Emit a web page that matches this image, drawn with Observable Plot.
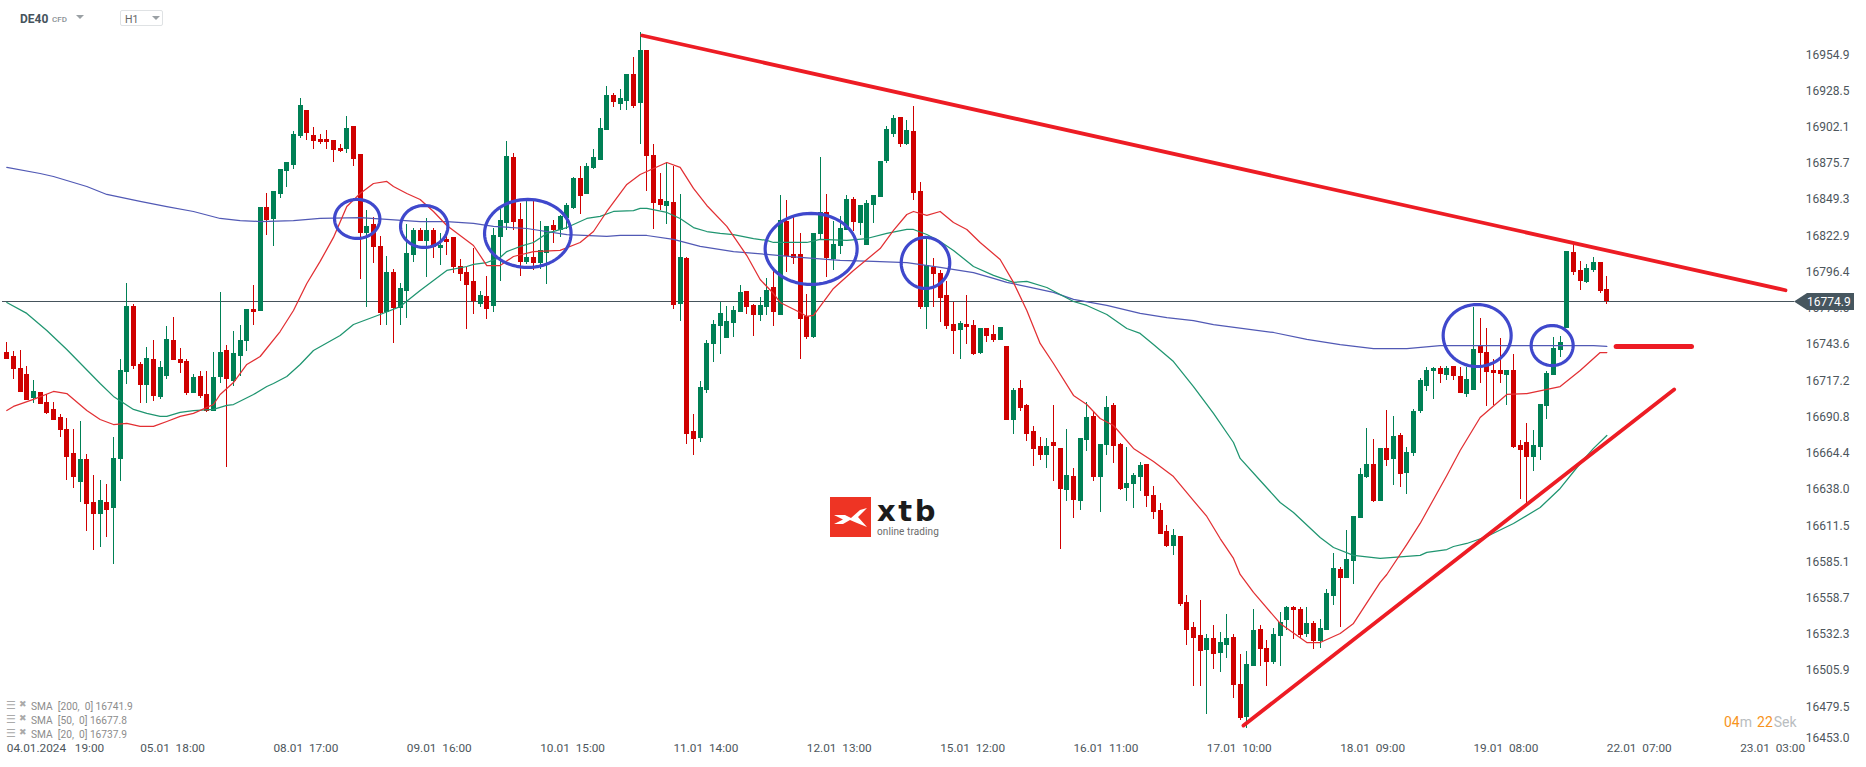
<!DOCTYPE html>
<html>
<head>
<meta charset="utf-8">
<script src="https://cdn.jsdelivr.net/npm/d3@7"></script>
<script src="https://cdn.jsdelivr.net/npm/@observablehq/plot@0.6"></script>
<style>
html,body{margin:0;padding:0;background:#fff;font-family:Roboto,sans-serif}
#wrap{position:relative;width:1866px;height:767px;overflow:hidden}
#wrap svg{display:block}
.abs{position:absolute;white-space:pre;line-height:1}
</style>
</head>
<body>
<div id="wrap"></div>
<script>
const opens=[16737.8,16734.9,16726.2,16721.8,16704.3,16708.7,16701.4,16696.3,16690.4,16681.7,
16664.2,16643.0,16659.8,16628.5,16619.8,16628.5,16624.1,16659.8,16723.3,16771.3,
16729.1,16713.8,16732.7,16705.0,16720.3,16746.6,16732.7,16731.2,16707.9,16720.3,
16707.2,16694.8,16719.6,16739.3,16716.7,16734.9,16745.8,16769.2,16767.7,16843.5,
16834.8,16853.0,16869.8,16874.1,16895.3,16914.2,16896.0,16893.1,16893.1,16892.4,
16886.5,16885.8,16902.6,16882.1,16824.6,16831.1,16815.1,16767.0,16796.1,16769.9,
16782.3,16808.5,16826.8,16818.7,16826.8,16813.6,16820.2,16821.7,16800.5,16796.1,
16789.6,16772.8,16778.6,16771.3,16821.7,16831.9,16880.0,16834.8,16803.4,16807.1,
16802.7,16810.0,16830.4,16826.8,16835.5,16842.8,16864.7,16853.0,16871.9,16877.8,
16899.6,16925.2,16918.6,16920.8,16940.5,16919.3,16958.0,16881.4,16849.3,16844.2,
16847.2,16772.8,16806.3,16680.2,16675.1,16710.1,16743.6,16756.8,16748.0,16759.0,
16767.0,16782.3,16772.1,16764.8,16770.6,16785.2,16764.8,16833.3,16809.3,16809.3,
16764.1,16748.8,16823.8,16839.9,16805.6,16815.1,16826.8,16849.3,16831.9,16815.8,
16845.0,16850.8,16877.0,16896.7,16909.1,16889.4,16898.9,16855.2,16770.6,16799.8,
16795.4,16779.4,16758.2,16753.9,16758.2,16757.5,16737.1,16755.3,16750.9,16746.6,
16742.2,16688.3,16711.6,16699.2,16680.2,16669.3,16662.7,16672.2,16667.9,16637.2,
16647.4,16629.2,16673.7,16691.2,16646.7,16670.0,16699.2,16670.8,16638.7,16641.6,
16646.7,16656.2,16633.6,16622.7,16607.4,16596.4,16603.7,16555.6,16537.4,16531.5,
16520.6,16529.4,16518.4,16524.3,16530.1,16495.8,16471.8,16509.0,16535.9,16522.1,
16511.9,16530.8,16542.5,16552.0,16550.5,16532.3,16540.3,16527.2,16535.2,16560.0,
16579.7,16573.1,16585.5,16616.8,16646.7,16656.2,16629.2,16667.9,16659.8,16677.3,
16649.6,16664.2,16694.8,16713.0,16724.0,16726.2,16721.1,16727.6,16720.3,16707.2,
16710.1,16742.2,16737.8,16724.7,16724.7,16721.1,16724.7,16670.0,16672.2,16661.3,
16668.6,16698.5,16721.1,16739.3,16755.3,16810.7,16797.6,16788.9,16797.6,16803.4,16783.7];
const closes=[16732.7,16725.4,16708.7,16702.8,16709.4,16699.9,16693.4,16688.3,16681.0,16661.3,
16646.7,16659.8,16627.0,16619.8,16629.9,16622.7,16660.6,16724.7,16771.3,16727.6,
16713.8,16733.4,16705.8,16726.9,16747.3,16732.0,16729.8,16707.9,16719.6,16705.8,
16694.8,16719.6,16737.8,16718.1,16737.1,16746.6,16769.2,16767.0,16843.5,16834.0,
16855.2,16871.2,16876.3,16896.7,16917.9,16897.5,16891.6,16890.9,16890.9,16885.1,
16884.3,16901.1,16878.5,16824.6,16829.7,16814.4,16766.3,16796.1,16769.9,16784.5,
16810.0,16826.8,16818.7,16826.8,16814.4,16815.8,16818.0,16799.8,16794.7,16786.7,
16775.0,16779.4,16769.2,16823.1,16834.0,16880.7,16832.6,16803.4,16807.1,16802.7,
16812.2,16829.7,16826.8,16836.9,16845.0,16864.7,16851.5,16873.4,16880.0,16901.1,
16925.2,16920.1,16923.0,16940.5,16917.1,16958.0,16880.7,16846.4,16845.0,16847.9,
16772.1,16807.1,16678.0,16674.4,16712.3,16744.4,16758.2,16766.3,16760.4,16768.4,
16781.6,16770.6,16764.8,16772.1,16783.0,16767.0,16834.0,16807.8,16806.3,16761.9,
16748.8,16824.6,16839.9,16806.3,16816.5,16828.2,16849.3,16832.6,16845.0,16846.4,
16852.3,16877.0,16900.4,16908.4,16889.4,16899.6,16853.7,16770.6,16801.2,16794.7,
16777.2,16756.8,16753.1,16759.0,16756.0,16736.4,16755.3,16749.5,16746.6,16756.0,
16688.3,16710.1,16697.0,16678.0,16667.1,16662.7,16669.3,16669.3,16638.0,16648.2,
16629.9,16675.1,16690.4,16646.7,16670.8,16697.7,16669.3,16638.0,16642.3,16648.2,
16655.5,16632.9,16621.2,16605.2,16596.4,16604.5,16554.1,16535.2,16529.4,16519.9,
16529.4,16517.7,16526.4,16529.4,16495.1,16471.0,16510.4,16535.2,16521.3,16511.9,
16532.3,16541.0,16552.0,16549.8,16531.5,16540.3,16527.2,16536.7,16562.2,16580.4,
16573.1,16586.9,16618.3,16648.9,16656.2,16629.2,16667.9,16659.1,16676.6,16648.9,
16664.9,16694.8,16717.4,16724.7,16726.2,16721.8,16726.2,16720.3,16707.9,16718.1,
16740.0,16737.1,16723.3,16722.5,16721.8,16724.7,16668.6,16666.4,16661.3,16670.0,
16699.9,16722.5,16740.7,16745.1,16811.4,16796.1,16789.6,16799.1,16803.4,16782.3,16775.0];
const highs=[16745.1,16738.6,16739.3,16727.6,16717.4,16708.7,16707.2,16701.4,16692.6,16689.7,
16681.7,16687.5,16663.5,16648.2,16644.5,16641.6,16675.9,16732.7,16788.1,16772.8,
16730.5,16741.5,16746.6,16731.2,16756.8,16763.3,16740.7,16732.7,16721.8,16723.9,
16723.9,16737.8,16781.6,16742.9,16753.1,16757.5,16769.2,16786.7,16843.5,16853.7,
16855.2,16871.2,16876.3,16898.9,16923.0,16914.2,16901.8,16896.7,16899.6,16892.4,
16889.4,16909.8,16902.6,16882.1,16841.3,16836.2,16822.4,16807.8,16798.3,16788.1,
16831.1,16828.2,16828.2,16835.5,16828.2,16824.6,16824.6,16821.7,16805.6,16799.8,
16813.6,16782.3,16793.2,16828.2,16842.1,16891.6,16882.9,16846.4,16848.6,16848.6,
16833.3,16829.7,16834.0,16837.7,16846.4,16865.4,16873.4,16875.6,16885.8,16908.4,
16931.7,16926.6,16929.5,16940.5,16952.9,16971.1,16958.0,16889.4,16868.3,16876.3,
16873.4,16853.0,16807.1,16692.6,16716.7,16746.6,16761.2,16774.3,16771.3,16771.3,
16786.7,16782.3,16772.8,16777.9,16791.8,16797.6,16852.3,16848.6,16836.2,16824.6,
16780.1,16824.6,16880.0,16853.0,16833.3,16837.0,16852.3,16850.8,16845.0,16848.6,
16852.3,16877.0,16902.6,16910.6,16909.1,16906.9,16917.1,16861.7,16820.2,16806.3,
16797.6,16789.6,16774.3,16760.4,16779.4,16761.2,16755.3,16755.3,16757.5,16756.0,
16742.2,16711.6,16717.4,16699.9,16683.9,16675.9,16675.1,16699.2,16667.9,16681.7,
16653.3,16675.1,16701.4,16694.1,16670.8,16705.8,16700.6,16671.5,16668.6,16649.6,
16657.6,16656.2,16640.1,16627.8,16611.7,16608.8,16603.7,16560.7,16541.0,16557.1,
16532.3,16538.8,16533.7,16546.9,16532.3,16517.7,16519.9,16550.5,16538.8,16527.9,
16536.7,16548.3,16552.7,16552.7,16552.0,16552.0,16541.8,16543.2,16565.1,16591.3,
16581.1,16608.1,16618.3,16653.3,16682.4,16674.4,16667.9,16695.5,16691.2,16678.8,
16668.6,16696.3,16718.9,16726.9,16726.9,16727.6,16727.6,16727.6,16726.9,16726.9,
16770.6,16762.6,16755.3,16732.7,16748.0,16724.7,16736.4,16673.7,16686.1,16681.0,
16699.9,16724.0,16748.8,16749.5,16811.4,16816.5,16804.2,16802.0,16807.1,16803.4,16793.2];
const lows=[16732.7,16718.1,16708.7,16702.8,16700.6,16699.9,16692.6,16688.3,16675.9,16644.5,
16638.7,16628.5,16607.4,16593.5,16595.7,16603.0,16583.3,16643.8,16714.5,16725.4,
16700.6,16700.6,16702.1,16703.6,16718.1,16732.0,16722.5,16706.5,16707.9,16704.3,
16694.1,16694.8,16715.2,16654.0,16713.0,16720.3,16738.6,16757.5,16767.7,16823.1,
16815.1,16850.1,16858.1,16871.2,16893.8,16892.4,16885.8,16889.4,16885.8,16876.3,
16883.6,16882.9,16873.4,16791.0,16770.6,16802.7,16757.5,16757.5,16744.4,16757.5,
16762.6,16803.4,16818.7,16792.5,16806.3,16801.2,16808.5,16795.4,16789.6,16754.6,
16765.5,16770.6,16761.9,16767.0,16789.6,16826.8,16826.8,16793.2,16802.0,16797.6,
16798.3,16787.4,16817.3,16821.7,16827.5,16842.1,16838.4,16853.0,16871.2,16877.8,
16899.6,16916.4,16914.2,16914.2,16915.7,16889.4,16855.2,16827.5,16841.3,16831.1,
16769.2,16760.4,16670.8,16662.7,16672.2,16707.9,16730.5,16736.4,16748.0,16748.8,
16767.0,16765.5,16749.5,16760.4,16764.8,16756.8,16764.8,16796.1,16802.0,16732.7,
16747.3,16748.0,16820.2,16792.5,16797.6,16809.3,16826.8,16826.0,16823.1,16815.8,
16831.9,16850.8,16875.6,16894.5,16887.2,16888.7,16848.6,16769.2,16754.6,16770.6,
16759.7,16754.6,16736.4,16732.7,16743.6,16735.6,16736.4,16745.1,16745.1,16746.6,
16688.3,16678.0,16694.8,16673.0,16654.7,16659.1,16653.3,16643.8,16594.2,16629.2,
16616.8,16622.7,16665.6,16643.8,16621.2,16662.7,16656.9,16637.2,16629.2,16624.1,
16636.5,16624.9,16616.1,16605.2,16595.7,16589.9,16552.7,16524.3,16494.4,16494.4,
16474.0,16506.8,16504.6,16514.8,16485.6,16469.6,16463.8,16509.0,16509.0,16494.4,
16510.4,16509.0,16535.2,16528.6,16529.4,16530.1,16521.3,16522.1,16535.2,16553.4,
16537.4,16573.1,16568.7,16616.8,16646.0,16628.5,16629.2,16654.7,16640.9,16639.4,
16634.3,16662.0,16693.4,16709.4,16703.6,16715.2,16717.4,16717.4,16707.9,16705.0,
16710.1,16715.2,16698.5,16699.2,16715.2,16699.2,16667.9,16630.7,16627.8,16651.1,
16659.1,16689.0,16721.1,16734.2,16755.3,16794.0,16783.0,16788.1,16796.1,16780.8,16772.8];

const sma200Bars=[0,5,7,12,15,20,24,28,32,35,38,43,47,53,57,62,66,70,73,78,84,90,92,96,100,104,109,114,119,125,130,135,140,145,148,150,153,157,160,165,170,174,178,181,190,195,200,205,210,215,220,235,238,240];
const sma200=[16872.7,16868.3,16866.1,16858.8,16853.0,16847.9,16844.2,16840.6,16835.5,16834.0,16833.3,16834.0,16835.5,16836.2,16834.8,16833.3,16833.3,16831.9,16829.7,16828.2,16823.8,16822.4,16823.1,16823.1,16820.2,16815.1,16811.4,16809.3,16807.1,16804.9,16804.2,16803.4,16799.8,16796.1,16791.8,16788.9,16785.9,16781.6,16776.5,16772.1,16766.3,16763.3,16761.1,16758.2,16752.4,16747.3,16743.6,16740.7,16740.7,16742.9,16742.9,16742.9,16742.9,16742.2];
const sma50Bars=[0,3,6,9,14,16,19,21,23,24,26,28,31,33,34,37,39,40,42,44,46,50,52,56,59,62,64,66,69,70,72,74,75,77,79,81,84,87,89,91,94,95,96,99,101,103,105,107,109,112,114,115,120,122,126,129,132,135,136,138,140,142,145,148,151,153,156,160,162,165,168,170,172,175,178,181,184,185,188,191,193,197,199,202,206,208,212,213,216,217,219,222,226,230,233,236,238,240];
const sma50=[16774.3,16766.3,16753.9,16740.0,16715.2,16705.8,16696.3,16693.4,16691.2,16691.2,16694.1,16695.5,16696.3,16699.2,16699.9,16707.2,16713.0,16715.2,16720.3,16729.1,16739.3,16750.2,16758.2,16765.5,16771.3,16783.0,16790.3,16797.6,16800.5,16802.0,16803.4,16807.1,16811.4,16815.1,16818.0,16824.6,16828.9,16835.5,16837.0,16840.6,16841.3,16842.8,16842.8,16839.9,16835.5,16828.9,16826.0,16824.6,16823.8,16820.9,16819.5,16818.0,16818.0,16820.2,16819.5,16820.9,16824.6,16827.5,16827.5,16823.8,16818.7,16812.2,16800.5,16794.0,16788.9,16789.6,16785.2,16775.0,16772.1,16765.5,16755.3,16751.7,16743.6,16731.2,16713.0,16693.4,16672.2,16660.6,16644.5,16628.5,16621.2,16603.0,16595.7,16589.9,16587.7,16588.4,16589.9,16592.1,16594.2,16596.4,16598.6,16603.7,16613.2,16624.8,16638.7,16656.9,16667.9,16677.3];
const sma20Bars=[0,1,4,7,9,12,14,16,18,20,22,24,26,28,31,32,34,36,38,41,43,45,47,49,51,53,55,57,58,60,62,64,66,70,72,74,76,79,83,86,88,90,93,95,99,101,103,105,108,111,113,115,116,119,120,121,124,127,131,133,135,136,138,140,142,144,146,149,151,153,155,157,160,162,164,166,169,172,175,178,180,182,184,185,187,191,195,197,200,202,206,207,210,212,214,216,218,221,225,228,233,236,239,240];
const sma20=[16695.5,16698.5,16703.6,16709.4,16707.9,16695.5,16689.0,16685.3,16686.1,16683.9,16683.9,16687.5,16691.2,16693.4,16699.9,16707.2,16715.9,16729.1,16734.9,16753.1,16768.4,16788.1,16804.2,16821.7,16844.2,16853.7,16861.0,16862.5,16858.8,16853.7,16849.3,16840.6,16830.4,16815.8,16801.2,16801.2,16807.8,16811.4,16812.2,16818.0,16826.0,16840.6,16860.3,16867.6,16876.3,16872.7,16857.4,16845.0,16829.7,16808.5,16791.0,16780.8,16774.3,16767.0,16764.1,16764.8,16784.5,16797.6,16813.6,16826.8,16838.4,16840.6,16837.7,16840.6,16832.6,16827.5,16818.0,16805.6,16788.9,16768.4,16744.4,16729.8,16706.5,16699.9,16689.7,16684.6,16667.9,16658.4,16647.4,16629.9,16618.3,16602.2,16587.7,16576.0,16562.9,16540.3,16526.4,16526.4,16533.0,16540.3,16570.2,16576.0,16597.9,16613.2,16630.7,16648.2,16666.4,16690.4,16707.2,16707.9,16713.0,16724.7,16737.8,16737.8];

const fallBars=[95.3,266.8], fallPrices=[16968.9,16783.2];
const riseBars=[185.5,250.1], risePrices=[16465.9,16710.9];
const levelBars=[241.4,252.7], levelPrices=[16742.2,16742.2];
const ringBars=[52.56,62.61,78.15,120.65,137.8,220.55,231.8];
const ringBarRadii=[3.40,3.55,6.49,6.90,3.64,5.10,3.15];
const ringPrices=[16835.2,16829.7,16824.6,16813.3,16803.1,16750.2,16742.9];
const ringPriceRadii=[14.2,15.3,24.8,25.9,18.6,22.6,14.6];

const priceTicks=[16954.9,16928.5,16902.1,16875.7,16849.3,16822.9,16796.4,16770.0,16743.6,16717.2,16690.8,16664.4,16638.0,16611.5,16585.1,16558.7,16532.3,16505.9,16479.5];
const bottomTick=[16453.0];
const lastPrice=16774.9;
const timeBars=[0,20,40,60,80,100,120,140,160,180,200,220,240,260];
const timeDates=["04.01.2024","05.01","08.01","09.01","10.01","11.01","12.01","15.01","16.01","17.01","18.01","19.01","22.01","23.01"];
const timeHours=["19:00","18:00","17:00","16:00","15:00","14:00","13:00","12:00","11:00","10:00","09:00","08:00","07:00","03:00"];
const legendNames=["SMA  [200,  0]","SMA  [50,  0]","SMA  [20,  0]"];
const legendValues=[16741.9,16677.8,16737.9];

const GREEN="#008055",RED="#cf0000",TREND="#ed1c24";
const bars=opens.map((_,i)=>i);
const isUp=i=>closes[i]>=opens[i];
const rings=ringBars.flatMap((b,k)=>d3.range(0,73).map(a=>({k,
  x:b+ringBarRadii[k]*Math.cos(a*Math.PI/36),
  y:ringPrices[k]+ringPriceRadii[k]*Math.sin(a*Math.PI/36)})));
const labelFill="#4d565c";

const chart=Plot.plot({
  width:1866,height:767,margin:0,
  style:{fontFamily:"Roboto, sans-serif",background:"#fff"},
  x:{type:"linear",domain:[-0.945,278.95],axis:null},
  y:{type:"linear",domain:[16435.3,16994.4],axis:null},
  marks:[
    Plot.ruleY([lastPrice],{x1:-0.6,x2:268.2,stroke:"#46535c",strokeWidth:1,shapeRendering:"crispEdges"}),
    Plot.ruleX(bars.filter(i=>!isUp(i)),{x:i=>i,y1:i=>lows[i],y2:i=>highs[i],stroke:RED,strokeWidth:1,shapeRendering:"crispEdges"}),
    Plot.ruleX(bars.filter(isUp),{x:i=>i,y1:i=>lows[i],y2:i=>highs[i],stroke:GREEN,strokeWidth:1,shapeRendering:"crispEdges"}),
    Plot.ruleX(bars.filter(i=>!isUp(i)),{x:i=>i,y1:i=>opens[i],y2:i=>closes[i],stroke:RED,strokeWidth:5,shapeRendering:"crispEdges"}),
    Plot.ruleX(bars.filter(isUp),{x:i=>i,y1:i=>opens[i],y2:i=>closes[i],stroke:GREEN,strokeWidth:5,shapeRendering:"crispEdges"}),
    Plot.line(sma200,{x:sma200Bars,y:sma200,stroke:"#5159b5",strokeWidth:1.25}),
    Plot.line(sma50,{x:sma50Bars,y:sma50,stroke:"#1f9570",strokeWidth:1.25}),
    Plot.line(sma20,{x:sma20Bars,y:sma20,stroke:"#e22f33",strokeWidth:1.25}),
    Plot.line(rings,{x:"x",y:"y",z:"k",stroke:"#3f48cc",strokeWidth:3.2}),
    Plot.line(fallPrices,{x:fallBars,y:fallPrices,stroke:TREND,strokeWidth:3.8}),
    Plot.line(risePrices,{x:riseBars,y:risePrices,stroke:TREND,strokeWidth:3.8}),
    Plot.line(levelPrices,{x:levelBars,y:levelPrices,stroke:TREND,strokeWidth:5,strokeLinecap:"round"}),
    Plot.text(priceTicks,{y:d=>d,text:d=>d.toFixed(1),frameAnchor:"right",dx:-17,textAnchor:"end",fontSize:12,fill:labelFill}),
    Plot.text(bottomTick,{y:d=>d,text:d=>d.toFixed(1),frameAnchor:"right",dx:-17,dy:-5,textAnchor:"end",fontSize:12,fill:labelFill}),
    Plot.text(timeBars,{x:d=>d,text:(d,i)=>timeDates[i]+(i?"\u00a0\u00a0":"\u00a0\u00a0\u00a0")+timeHours[i],frameAnchor:"bottom",dy:-16,textAnchor:"start",fontSize:11.8,fill:labelFill})
  ]
});
const wrap=document.getElementById("wrap");
wrap.appendChild(chart);

function abs(html,css){const e=document.createElement("div");e.className="abs";e.style.cssText=css;e.innerHTML=html;wrap.appendChild(e);return e;}
// header
abs("DE40","left:20px;top:13px;font-size:12px;font-weight:700;color:#46535c");
abs("CFD","left:52px;top:16px;font-size:8px;color:#8a9095;font-weight:500");
abs("","left:76px;top:15px;width:0;height:0;border-left:4px solid transparent;border-right:4px solid transparent;border-top:4px solid #9aa0a4");
abs("H1","left:120px;top:10px;width:41px;height:14px;border:1px solid #dfe2e4;border-radius:2px;font-size:10.5px;color:#666;padding:0;line-height:17px;text-indent:4px");
abs("","left:152px;top:16px;width:0;height:0;border-left:4px solid transparent;border-right:4px solid transparent;border-top:4px solid #9aa0a4");
// last price tag
abs("16774.9","left:1794px;top:293px;width:60px;height:17px;background:#46565f;color:#fff;font-size:12px;line-height:18px;text-indent:13px;clip-path:polygon(0 50%,13px 0,100% 0,100% 100%,13px 100%)");
// timer
abs('<span style="color:#f7941d">04</span><span style="color:#b9bdc0">m</span><span style="color:#f7941d;margin-left:5px">22</span><span style="color:#b9bdc0;margin-left:1px">Sek</span>',"left:1724px;top:715px;font-size:14px");
// indicator legend
legendNames.forEach((n,i)=>{
  const y=702+i*14;
  abs("\u2630",`left:6px;top:${y-2}px;font-size:11px;color:#aaaaaa;font-family:'DejaVu Sans'`);
  abs("\u2716",`left:19px;top:${y-2}px;font-size:9px;color:#aaaaaa;font-family:'DejaVu Sans'`);
  abs(n+" "+legendValues[i].toFixed(1),`left:31px;top:${y}px;font-size:10.2px;color:#8c8c8c`);
});
// logo
abs('<svg width="41" height="40" style="display:block"><rect width="41" height="40" fill="#ee3424"/><path d="M4 18 L15 18 L21 21 L30 13 L37 11 L28 20 L37 30 L27 26 L20 23 L13 27 L4 27 L13 22.5 Z" fill="#fff"/></svg>',"left:830px;top:497px");
abs("xtb","left:877px;top:497px;font-family:'DejaVu Sans';font-weight:700;font-size:29px;letter-spacing:2.6px;color:#1c1c1c");
abs("online trading","left:877px;top:527px;font-size:10px;color:#6b6b6b;letter-spacing:.1px");
</script>
</body>
</html>
